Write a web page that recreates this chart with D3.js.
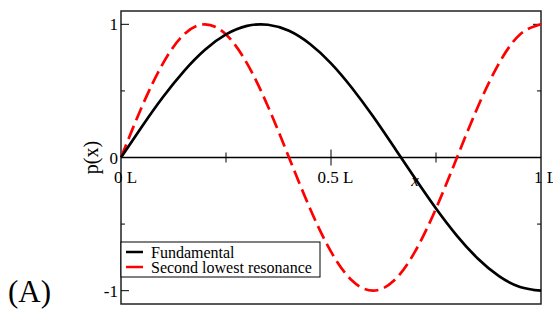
<!DOCTYPE html>
<html>
<head>
<meta charset="utf-8">
<script src="https://cdn.jsdelivr.net/npm/d3@7"></script>
<style>
  body { margin: 0; background: #fff; }
  svg text { font-family: "Liberation Serif", "DejaVu Serif", serif; fill: #000; }
</style>
</head>
<body>
<svg width="553" height="314"></svg>
<script>
// positions along the tube (units of L)
var xs = [0, 0.05, 0.1, 0.15, 0.2, 0.25, 0.3, 0.35, 0.4, 0.45, 0.5,
          0.55, 0.6, 0.65, 0.7, 0.75, 0.8, 0.85, 0.9, 0.95, 1];
var fundamental = [0, 0.233, 0.454, 0.649, 0.809, 0.924, 0.988, 0.997, 0.951, 0.852, 0.707,
                   0.522, 0.309, 0.078, -0.156, -0.383, -0.588, -0.760, -0.891, -0.972, -1];
var secondLowest = [0, 0.383, 0.707, 0.924, 1, 0.924, 0.707, 0.383, 0, -0.383, -0.707,
                    -0.924, -1, -0.924, -0.707, -0.383, 0, 0.383, 0.707, 0.924, 1];
var xTicks = [0, 0.5, 1];
var xTickLabels = ["0 L", "0.5 L", "1 L"];
var yTicks = [-1, 0, 1];
var seriesNames = ["Fundamental", "Second lowest resonance"];

var svg = d3.select("svg");
var plotLeft = 121, plotRight = 541, plotTop = 11, plotBottom = 304;

var x = d3.scaleLinear().domain([0, 1]).range([plotLeft, plotRight]);
var y = d3.scaleLinear().domain([-1.1, 1.1]).range([plotBottom, plotTop]);

var line = d3.line()
  .x(function(d) { return x(d[0]); })
  .y(function(d) { return y(d[1]); })
  .curve(d3.curveNatural);

// frame
svg.append("rect")
  .attr("x", plotLeft).attr("y", plotTop)
  .attr("width", plotRight - plotLeft).attr("height", plotBottom - plotTop)
  .attr("fill", "none").attr("stroke", "#222").attr("stroke-width", 1.5);

// y ticks, inward on both sides
var yMinor = [-0.5, 0.5];
yTicks.concat(yMinor).forEach(function(v) {
  var len = yMinor.indexOf(v) >= 0 ? 4 : 8;
  svg.append("line").attr("x1", plotLeft).attr("x2", plotLeft + len)
    .attr("y1", y(v)).attr("y2", y(v)).attr("stroke", "#000").attr("stroke-width", 1);
  svg.append("line").attr("x1", plotRight - len).attr("x2", plotRight)
    .attr("y1", y(v)).attr("y2", y(v)).attr("stroke", "#000").attr("stroke-width", 1);
});
svg.selectAll(".ylab").data(yTicks).enter().append("text")
  .attr("x", plotLeft - 3).attr("y", function(d) { return y(d) + 6; })
  .attr("text-anchor", "end").attr("font-size", 17)
  .text(function(d) { return d; });

// zero axis
svg.append("line").attr("x1", plotLeft).attr("x2", plotRight)
  .attr("y1", y(0)).attr("y2", y(0)).attr("stroke", "#000").attr("stroke-width", 1.5);
[0.25, 0.5, 0.75].forEach(function(v) {
  var len = v === 0.5 ? 8 : 5;
  svg.append("line").attr("x1", x(v)).attr("x2", x(v))
    .attr("y1", y(0) - len).attr("y2", y(0) + len).attr("stroke", "#000").attr("stroke-width", 1);
});
svg.selectAll(".xlab").data(xTicks).enter().append("text")
  .attr("x", function(d) { return x(d) + 4.5; }).attr("y", y(0) + 25)
  .attr("text-anchor", "middle").attr("font-size", 17)
  .text(function(d, i) { return xTickLabels[i]; });

svg.append("text").attr("x", 415).attr("y", y(0) + 28)
  .attr("text-anchor", "middle").attr("font-size", 17).attr("font-style", "italic")
  .text("x");

svg.append("text")
  .attr("transform", "translate(98," + y(0) + ") rotate(-90)")
  .attr("text-anchor", "middle").attr("font-size", 20)
  .text("p(x)");

// curves
svg.append("path")
  .datum(xs.map(function(v, i) { return [v, secondLowest[i]]; }))
  .attr("d", line).attr("fill", "none").attr("stroke", "#f00")
  .attr("stroke-width", 2.7).attr("stroke-dasharray", "14,6");
svg.append("path")
  .datum(xs.map(function(v, i) { return [v, fundamental[i]]; }))
  .attr("d", line).attr("fill", "none").attr("stroke", "#000")
  .attr("stroke-width", 2.7);

// legend
var legend = svg.append("g").attr("transform", "translate(121,242)");
legend.append("rect").attr("width", 199).attr("height", 35)
  .attr("fill", "#fff").attr("stroke", "#000").attr("stroke-width", 1);
var colors = ["#000", "#f00"];
seriesNames.forEach(function(name, i) {
  legend.append("line").attr("x1", 5).attr("x2", 22)
    .attr("y1", 10 + i * 15).attr("y2", 10 + i * 15)
    .attr("stroke", colors[i]).attr("stroke-width", 2.5);
  legend.append("text").attr("x", 30).attr("y", 16 + i * 14.5)
    .attr("font-size", 16).text(name);
});

svg.append("text").attr("x", 8).attr("y", 302)
  .attr("font-size", 31).text("(A)");
</script>
</body>
</html>
